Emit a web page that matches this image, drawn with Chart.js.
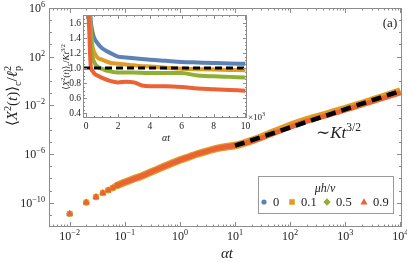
<!DOCTYPE html>
<html>
<head>
<meta charset="utf-8">
<script src="https://cdn.jsdelivr.net/npm/chart.js@4"></script>
<style>
  html, body { margin: 0; padding: 0; background: #fff; }
  #wrap { position: relative; width: 407px; height: 262px; }
  #wrap canvas { position: absolute; left: 0; top: 0; }
</style>
</head>
<body>
<div id="wrap">
  <canvas id="mainChart" width="407" height="262"></canvas>
  <canvas id="insetChart" width="407" height="262"></canvas>
</div>
<script>
// ---- main panel data: time and log10 <X^2(t)>_c / l_p^2 per mu h / v ----
const tMain = [0.01, 0.02, 0.03, 0.04, 0.05, 0.06, 0.07, 0.08, 0.09, 0.1, 0.15, 0.2, 0.3, 0.5, 0.75,
               1, 1.5, 2, 3, 5, 7, 10, 20, 50, 100, 200, 500, 1000, 2000, 5000, 10000];
const logMu0  = [-10.91, -9.98, -9.53, -9.2, -8.98, -8.8, -8.62, -8.5, -8.4, -8.32, -8.02, -7.82, -7.48, -7.05, -6.72,
                 -6.5, -6.22, -6.02, -5.78, -5.52, -5.4, -5.3, -4.85, -4.15, -3.6, -3.14, -2.62, -2.22, -1.81, -1.23, -0.79];
const logMu01 = [-10.91, -9.98, -9.53, -9.2, -8.98, -8.8, -8.62, -8.5, -8.4, -8.32, -8.02, -7.82, -7.48, -7.05, -6.72,
                 -6.5, -6.22, -6.02, -5.78, -5.52, -5.4, -5.3, -4.9, -4.2, -3.65, -3.19, -2.67, -2.27, -1.85, -1.27, -0.83];
const logMu05 = [-10.91, -9.98, -9.53, -9.2, -8.98, -8.8, -8.62, -8.5, -8.4, -8.32, -8.02, -7.82, -7.48, -7.05, -6.72,
                 -6.5, -6.22, -6.02, -5.78, -5.52, -5.4, -5.3, -4.92, -4.22, -3.68, -3.22, -2.73, -2.32, -1.89, -1.3, -0.88];
const logMu09 = [-10.91, -9.98, -9.53, -9.2, -8.98, -8.8, -8.62, -8.5, -8.4, -8.32, -8.02, -7.82, -7.48, -7.05, -6.72,
                 -6.5, -6.22, -6.02, -5.78, -5.52, -5.4, -5.3, -4.97, -4.3, -3.8, -3.3, -2.8, -2.38, -1.96, -1.41, -0.98];

// ~K t^{3/2} guide
const guideT = [10, 10000];
const guideLogY = [-5.32, -0.82];

// ---- inset data: t (x10^3) and <X^2(t)>_c / K t^{3/2} ----
const tInset = [0.1, 0.15, 0.2, 0.25, 0.3, 0.4, 0.5, 0.7, 1, 1.5, 2, 2.5, 3, 3.5, 4, 5, 6, 7, 8, 9, 10];
const ratioMu0  = [3.5, 2.6, 2.0, 1.75, 1.6, 1.47, 1.4, 1.33, 1.26, 1.2, 1.15, 1.14, 1.13, 1.12, 1.11, 1.095, 1.08, 1.073, 1.066, 1.06, 1.057];
const ratioMu01 = [3.5, 2.5, 1.9, 1.6, 1.45, 1.28, 1.21, 1.14, 1.11, 1.07, 1.057, 1.045, 1.035, 1.025, 1.02, 1.005, 0.99, 0.985, 0.98, 0.975, 0.97];
const ratioMu05 = [3.5, 2.6, 2.0, 1.6, 1.35, 1.15, 1.08, 1.02, 0.99, 0.955, 0.94, 0.94, 0.94, 0.937, 0.934, 0.935, 0.934, 0.9, 0.89, 0.883, 0.876];
const ratioMu09 = [3.0, 1.8, 1.45, 1.15, 1.0, 0.96, 0.93, 0.9, 0.87, 0.83, 0.81, 0.82, 0.81, 0.77, 0.76, 0.76, 0.75, 0.73, 0.72, 0.71, 0.7];
const refLineT = [-0.2, 10.1];
const refLineY = [1, 1];

// ---- labels / ticks ----
const muLabels = ['0', '0.1', '0.5', '0.9'];
const xMajorMain = [0.01, 0.1, 1, 10, 100, 1000, 10000];
const xMajorExp = ['\u22122', '\u22121', '0', '1', '2', '3', '4'];
const yLabelMain = [1e6, 1e2, 1e-2, 1e-6, 1e-10];
const yLabelExp = ['6', '2', '\u22122', '\u22126', '\u221210'];
const xTicksInset = [0, 2, 4, 6, 8, 10];
const yTicksInset = [0.4, 0.6, 0.8, 1.0, 1.2, 1.4, 1.6];

const colors = ['#5e81b5', '#e19c24', '#8fb032', '#eb6235'];
const markers = ['circle', 'rect', 'rectRot', 'triangle'];
const SERIF = '"Liberation Serif", "DejaVu Serif", serif';
const FRAME = '#8c8c8c';

// draw text made of pieces (italic / sup / sub)
function richText(ctx, parts, x, y, size, align) {
  const fontOf = p => (p.it ? 'italic ' : '') + (p.pos ? size * 0.68 : size) + 'px ' + SERIF;
  let w = 0;
  parts.forEach(p => {
    ctx.font = fontOf(p);
    p.w = ctx.measureText(p.s).width;
    if (!p.keep) w += p.w;
  });
  let cx = align === 'center' ? x - w / 2 : align === 'right' ? x - w : x;
  ctx.textAlign = 'left';
  ctx.textBaseline = 'alphabetic';
  parts.forEach(p => {
    ctx.font = fontOf(p);
    const dy = p.pos === 'sup' ? -size * 0.42 : p.pos === 'sub' ? size * 0.24 : 0;
    ctx.fillText(p.s, cx, y + dy);
    if (!p.keep) cx += p.w;
  });
}

function pow10(exp) {
  return [{ s: '10' }, { s: exp, pos: 'sup' }];
}

function drawFrame(ctx, area, xTicks, yTicks, xScale, yScale) {
  ctx.save();
  ctx.strokeStyle = FRAME;
  ctx.lineWidth = 1;
  ctx.strokeRect(Math.round(area.left) + 0.5, Math.round(area.top) + 0.5,
                 Math.round(area.right - area.left) - 1, Math.round(area.bottom - area.top) - 1);
  ctx.beginPath();
  xTicks.forEach(tk => {
    const px = Math.round(xScale.getPixelForValue(tk.v)) + 0.5;
    if (px < area.left || px > area.right) return;
    ctx.moveTo(px, area.bottom); ctx.lineTo(px, area.bottom - tk.len);
    ctx.moveTo(px, area.top); ctx.lineTo(px, area.top + tk.len);
  });
  yTicks.forEach(tk => {
    const py = Math.round(yScale.getPixelForValue(tk.v)) + 0.5;
    if (py < area.top || py > area.bottom) return;
    ctx.moveTo(area.left, py); ctx.lineTo(area.left + tk.len, py);
    ctx.moveTo(area.right, py); ctx.lineTo(area.right - tk.len, py);
  });
  ctx.stroke();
  ctx.restore();
}

function drawMarker(ctx, style, x, y, r, color) {
  ctx.fillStyle = color;
  ctx.beginPath();
  if (style === 'circle') {
    ctx.arc(x, y, r, 0, Math.PI * 2);
  } else if (style === 'rect') {
    ctx.rect(x - r, y - r, 2 * r, 2 * r);
  } else if (style === 'rectRot') {
    ctx.moveTo(x, y - r * 1.3); ctx.lineTo(x + r * 1.3, y); ctx.lineTo(x, y + r * 1.3); ctx.lineTo(x - r * 1.3, y);
  } else {
    ctx.moveTo(x, y - r * 1.2); ctx.lineTo(x + r * 1.1, y + r * 0.8); ctx.lineTo(x - r * 1.1, y + r * 0.8);
  }
  ctx.closePath();
  ctx.fill();
}

// ---- main chart ----
const mainSeries = [logMu0, logMu01, logMu05, logMu09];
const markerRadius = [3, 4, 3.6, 4];
const bandWidth = [4, 7.5, 4, 5];

const mainDatasets = mainSeries.map((s, i) => ({
  data: tMain.map((t, j) => ({ x: t, y: Math.pow(10, s[j]) })),
  showLine: true,
  borderColor: colors[i],
  backgroundColor: colors[i],
  borderWidth: bandWidth[i],
  pointStyle: markers[i],
  pointRadius: ctx => (ctx.raw && ctx.raw.x < 0.075) ? markerRadius[i] : 0,
  pointBorderWidth: 0,
  cubicInterpolationMode: 'monotone',
  segment: { borderColor: ctx => ctx.p0.parsed.x < 0.065 ? 'rgba(0,0,0,0)' : undefined },
  // first series at the bottom, 0.1 above 0.5 so its wide band shows at the edge
  order: [5, 3, 4, 1][i]
}));

mainDatasets.push({
  data: guideT.map((t, j) => ({ x: t, y: Math.pow(10, guideLogY[j]) })),
  showLine: true,
  borderColor: '#000',
  borderWidth: 4.5,
  borderDash: [10, 6],
  pointRadius: 0,
  order: 0
});

const mainDecor = {
  id: 'mainDecor',
  beforeDraw(chart) {
    const ctx = chart.ctx;
    ctx.save();
    ctx.fillStyle = '#fff';
    ctx.fillRect(0, 0, chart.width, chart.height);
    ctx.restore();
  },
  afterDraw(chart) {
    const ctx = chart.ctx;
    const area = chart.chartArea;
    const xs = chart.scales.x, ys = chart.scales.y;

    const xTicks = [];
    for (let d = -3; d <= 4; d++) {
      for (let k = 1; k <= 9; k++) {
        const v = k * Math.pow(10, d);
        xTicks.push({ v: v, len: k === 1 ? 5 : 2.5 });
      }
    }
    const yTicks = [];
    for (let d = -12; d <= 6; d++) {
      const labelled = yLabelMain.some(v => Math.abs(Math.log10(v) - d) < 1e-6);
      yTicks.push({ v: Math.pow(10, d), len: labelled ? 5 : 3 });
    }
    drawFrame(ctx, area, xTicks, yTicks, xs, ys);

    ctx.save();
    ctx.fillStyle = '#222';
    xMajorMain.forEach((v, i) => {
      richText(ctx, pow10(xMajorExp[i]), xs.getPixelForValue(v), 240, 12, 'center');
    });
    yLabelMain.forEach((v, i) => {
      richText(ctx, pow10(yLabelExp[i]), 45, ys.getPixelForValue(v) + 4, 12, 'right');
    });

    // axis titles
    richText(ctx, [{ s: '\u03b1', it: 1 }, { s: 't', it: 1 }], 227, 258, 15, 'center');
    ctx.save();
    ctx.translate(17, 96);
    ctx.rotate(-Math.PI / 2);
    richText(ctx, [{ s: '\u27e8' }, { s: 'X', it: 1 }, { s: '2', pos: 'sup' }, { s: '(' }, { s: 't', it: 1 }, { s: ')' },
                   { s: '\u27e9' }, { s: 'c', pos: 'sub' }, { s: '/' }, { s: '\u2113', it: 1 },
                   { s: '2', pos: 'sup', keep: 1 }, { s: 'p', pos: 'sub' }], 0, 0, 15, 'center');
    ctx.restore();

    // annotations
    richText(ctx, [{ s: '(a)' }], 390, 27, 13, 'center');
    richText(ctx, [{ s: '\u223c' }, { s: 'K', it: 1 }, { s: 't', it: 1 }, { s: '3/2', pos: 'sup' }], 316, 138, 17, 'left');

    // legend
    ctx.fillStyle = '#fff';
    ctx.fillRect(258, 176, 135, 37);
    ctx.strokeStyle = '#999';
    ctx.lineWidth = 1;
    ctx.strokeRect(258.5, 176.5, 135, 37);
    ctx.fillStyle = '#222';
    richText(ctx, [{ s: '\u03bc', it: 1 }, { s: 'h', it: 1 }, { s: '/' }, { s: '\u03bd', it: 1 }], 325, 192, 12, 'center');
    const legX = [264, 292, 327, 364];
    const legSize = [2.6, 2.8, 2.8, 3.2];
    muLabels.forEach((lab, i) => {
      drawMarker(ctx, markers[i], legX[i], 202, legSize[i], colors[i]);
      ctx.fillStyle = '#222';
      richText(ctx, [{ s: lab }], legX[i] + 9, 206, 12.5, 'left');
    });
    ctx.restore();
  }
};

new Chart(document.getElementById('mainChart'), {
  type: 'scatter',
  data: { datasets: mainDatasets },
  options: {
    responsive: false,
    animation: false,
    layout: { padding: { left: 49, right: 5, top: 8, bottom: 35 } },
    plugins: { legend: { display: false }, tooltip: { enabled: false } },
    scales: {
      x: { type: 'logarithmic', min: 0.00421, max: 10715, bounds: 'data', display: false },
      y: { type: 'logarithmic', min: 1e-12, max: 1e6, bounds: 'data', display: false }
    }
  },
  plugins: [mainDecor]
});

// ---- inset chart ----
const insetSeries = [ratioMu0, ratioMu01, ratioMu05, ratioMu09];
const insetDatasets = insetSeries.map((s, i) => ({
  data: tInset.map((t, j) => ({ x: t, y: s[j] })),
  showLine: true,
  borderColor: colors[i],
  borderWidth: 4,
  pointRadius: 0,
  cubicInterpolationMode: 'monotone',
  clip: 0,
  order: 4 - i
}));
insetDatasets.push({
  data: refLineT.map((t, j) => ({ x: t, y: refLineY[j] })),
  showLine: true,
  borderColor: '#000',
  borderWidth: 3,
  borderDash: [7, 4],
  pointRadius: 0,
  clip: 0,
  order: 0
});

const insetDecor = {
  id: 'insetDecor',
  beforeDatasetsDraw(chart) {
    const ctx = chart.ctx, a = chart.chartArea;
    ctx.save();
    ctx.fillStyle = '#fff';
    ctx.fillRect(a.left, a.top, a.right - a.left, a.bottom - a.top);
    ctx.restore();
  },
  afterDraw(chart) {
    const ctx = chart.ctx;
    const area = chart.chartArea;
    const xs = chart.scales.x, ys = chart.scales.y;
    const xTicks = [];
    for (let v = 0; v <= 10.001; v += 0.5) {
      xTicks.push({ v: v, len: Math.abs(v / 2 - Math.round(v / 2)) < 1e-6 ? 4 : 2 });
    }
    const yTicks = [];
    for (let v = 0.35; v <= 1.701; v += 0.05) {
      const major = Math.abs(v * 5 - Math.round(v * 5)) < 1e-6;
      yTicks.push({ v: v, len: major ? 4 : 2 });
    }
    drawFrame(ctx, area, xTicks, yTicks, xs, ys);

    ctx.save();
    ctx.fillStyle = '#222';
    xTicksInset.forEach(v => {
      richText(ctx, [{ s: String(v) }], xs.getPixelForValue(v), 129, 9.5, 'center');
    });
    yTicksInset.forEach(v => {
      richText(ctx, [{ s: v.toFixed(1) }], 81, ys.getPixelForValue(v) + 3, 9.5, 'right');
    });
    richText(ctx, [{ s: '\u00d710' }, { s: '3', pos: 'sup' }], 248, 120, 9, 'left');
    richText(ctx, [{ s: '\u03b1', it: 1 }, { s: 't', it: 1 }], 166, 141, 10, 'center');
    ctx.translate(69, 67);
    ctx.rotate(-Math.PI / 2);
    richText(ctx, [{ s: '\u27e8' }, { s: 'X', it: 1 }, { s: '2', pos: 'sup' }, { s: '(' }, { s: 't', it: 1 }, { s: ')' },
                   { s: '\u27e9' }, { s: 'c', pos: 'sub' }, { s: '/' }, { s: 'K', it: 1 }, { s: 't', it: 1 },
                   { s: '3/2', pos: 'sup' }], 0, 0, 9, 'center');
    ctx.restore();
  }
};

new Chart(document.getElementById('insetChart'), {
  type: 'scatter',
  data: { datasets: insetDatasets },
  options: {
    responsive: false,
    animation: false,
    layout: { padding: { left: 83, right: 160, top: 15, bottom: 144 } },
    plugins: { legend: { display: false }, tooltip: { enabled: false } },
    scales: {
      x: { type: 'linear', min: -0.2, max: 10.1, display: false },
      y: { type: 'linear', min: 0.34, max: 1.7, display: false }
    }
  },
  plugins: [insetDecor]
});
</script>
</body>
</html>
